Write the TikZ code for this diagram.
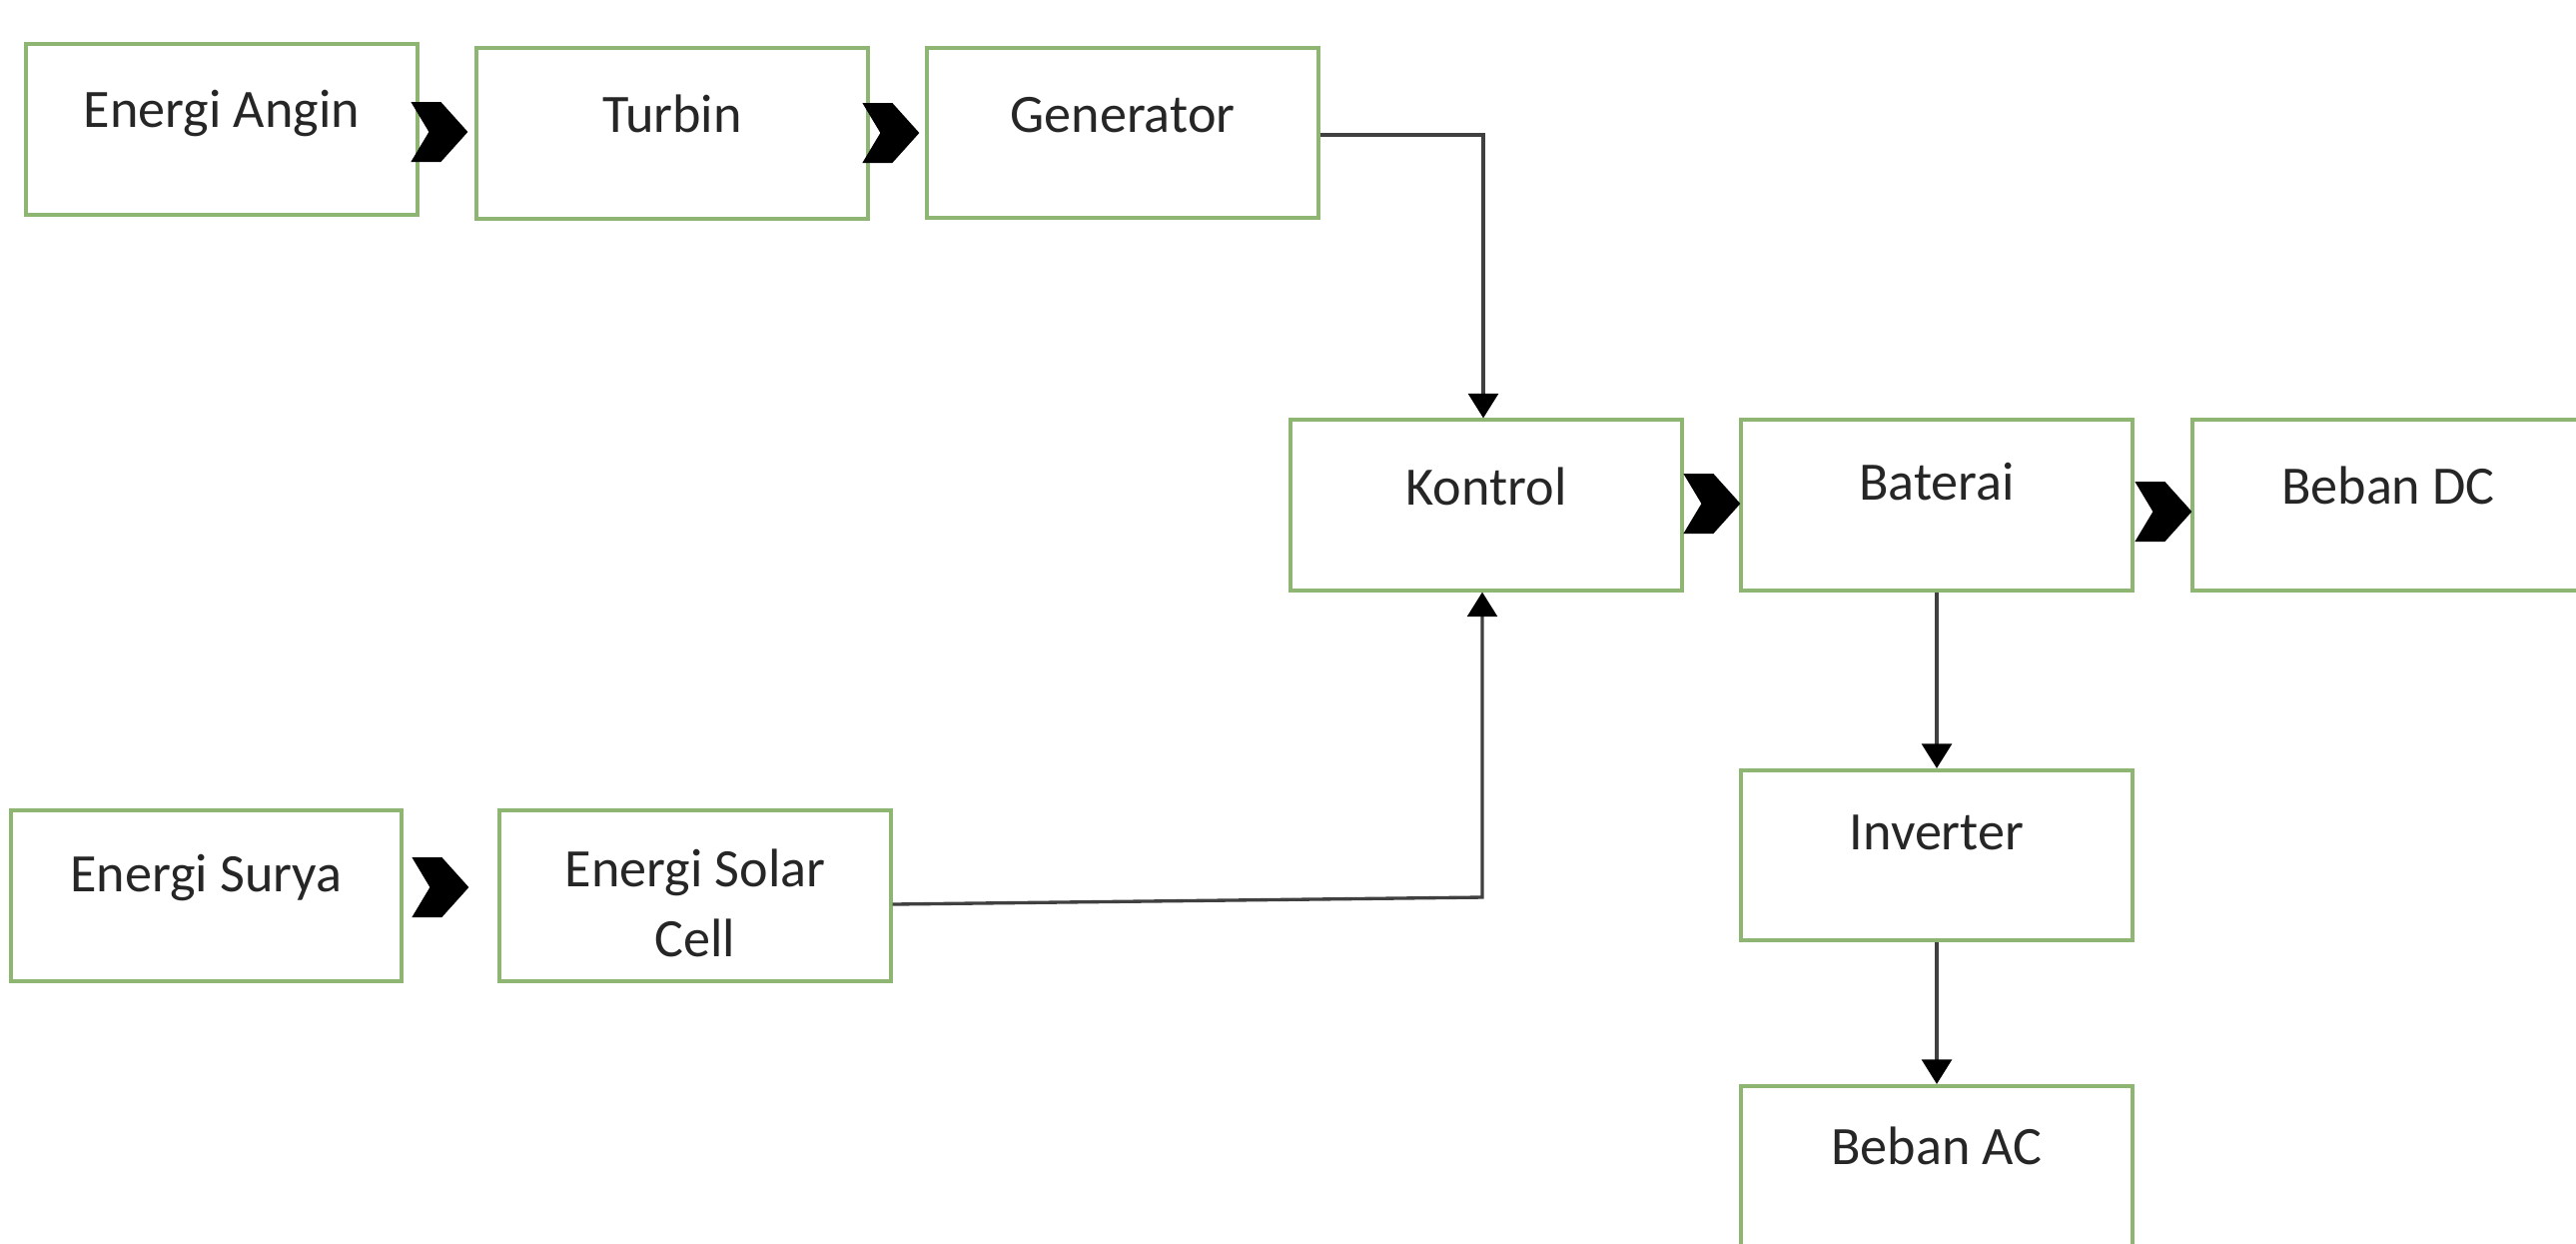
\documentclass[tikz,border=0pt]{standalone}
\usepackage{fontspec}
\setmainfont{Carlito}
\usetikzlibrary{arrows.meta,calc}
\definecolor{boxgreen}{HTML}{8FB573}
\definecolor{linegray}{HTML}{404040}
\definecolor{txtcol}{HTML}{262626}
\tikzset{
  box/.style={draw=boxgreen, line width=1.15pt, fill=white, rectangle,
    minimum width=3.91cm, minimum height=1.70cm, inner sep=0pt},
  lbl/.style={anchor=base, inner sep=0pt, text=txtcol, align=center,
    font=\fontsize{15.4pt}{19.9pt}\selectfont},
  conn/.style={draw=linegray, line width=0.95pt,
    -{Triangle[width=8.5pt,length=7pt,black]}},
  chev/.pic={\fill[black] (0,0) -- (-27,-30) -- (-57,-30) -- (-39,0) -- (-57,30) -- (-27,30) -- cycle;}
}
\begin{document}
\begin{tikzpicture}[x=0.01cm,y=-0.01cm]
\useasboundingbox (0,0) rectangle (2579,1244);
\clip (0,0) rectangle (2579,1244);
\fill[white] (0,0) rectangle (2579,1244);

% boxes
\node[box] (angin)     at (222,129.5)  {};
\node[box] (turbin)    at (673,133.5)  {};
\node[box] (generator) at (1124,133)   {};
\node[box] (kontrol)   at (1488,505.5) {};
\node[box] (baterai)   at (1939,505.5) {};
\node[box] (bebandc)   at (2391,505.5) {};
\node[box] (inverter)  at (1939,856)   {};
\node[box] (bebanac)   at (1939,1172)  {};
\node[box] (surya)     at (206.5,896.5) {};
\node[box] (solar)     at (696,896.5)  {};

% labels
\node[lbl] (anginT)     at (222,127)  {Energi Angin};
\node[lbl] (turbinT)    at (673,132)  {Turbin};
\node[lbl] (generatorT) at (1124,132) {Generator};
\node[lbl] (kontrolT)   at (1488,505) {Kontrol};
\node[lbl] (bateraiT)   at (1939,500) {Baterai};
\node[lbl] (bebandcT)   at (2391,504) {Beban DC};
\node[lbl] (inverterT)  at (1939,850) {Inverter};
\node[lbl] (bebanacT)   at (1939,1165) {Beban AC};
\node[lbl] (suryaT)     at (206.5,892) {Energi Surya};
\node[lbl] (solarT1)    at (696,887)  {Energi Solar};
\node[lbl] (solarT2)    at (696,957)  {Cell};

% chevron arrows
\pic at ($(turbin.west)+(-7,-1.5)$) {chev};
\pic at ($(generator.west)+(-6,0)$) {chev};
\pic at ($(baterai.west)+(1,-1.5)$) {chev};
\pic at ($(bebandc.west)+(1,6.5)$) {chev};
\pic at ($(solar.west)+(-29,-8.5)$) {chev};

% connectors
\draw[conn] ($(generator.east)+(0,2)$) -| ($(kontrol.north)+(-3,0)$);
\coordinate (sbend) at (1484,898);
\draw[conn] ($(solar.east)+(0,8.5)$) -- (sbend) -- (sbend |- kontrol.south);
\draw[conn] (baterai.south) -- (inverter.north);
\draw[conn] (inverter.south) -- (bebanac.north);
\end{tikzpicture}
\end{document}
